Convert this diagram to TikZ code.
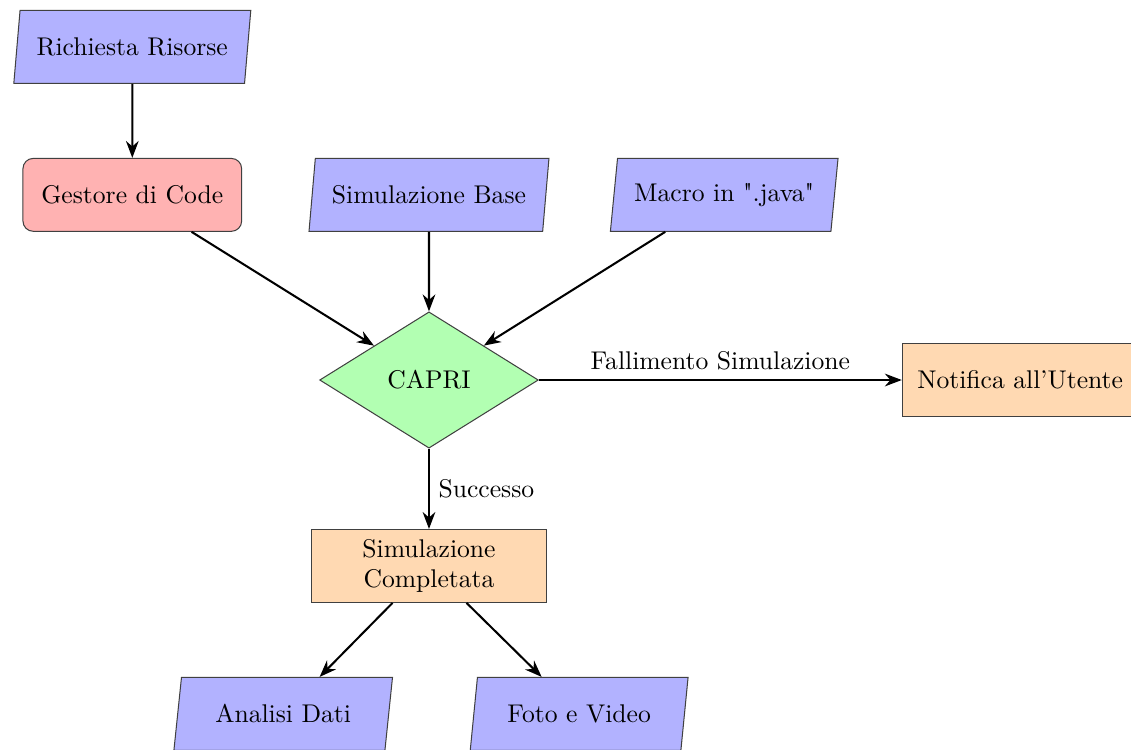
\documentclass[tikz,border=0pt]{standalone}
\usetikzlibrary{arrows.meta, positioning, shapes.geometric}
\tikzstyle{block} = [minimum width=3cm, minimum height=1cm, draw=black!75, inner sep=3.33pt]
\tikzstyle{io} = [block, trapezium, trapezium stretches=true, trapezium left angle=80, trapezium right angle=100, inner xsep=6.5pt, fill=blue!30]
\tikzstyle{queue} = [block, rectangle, rounded corners, fill=red!30]
\tikzstyle{process} = [block, rectangle, text width=3cm, align=center, fill=orange!30]
\tikzstyle{decision} = [block, diamond, fill=green!30]
\tikzstyle{arrow} = [-Stealth, thick]
\tikzstyle{note} = [font=\normalsize]

\begin{document}
\begin{tikzpicture}[on grid, auto]
    \useasboundingbox (-5.885,-5.075) rectangle (9.63,5.213);

    \node (capri) [decision] {CAPRI};
    \node (base) [io, above=2.54cm of capri] {Simulazione Base};
    \node (gestore) [queue, left=4.07cm of base] {Gestore di Code};
    \node (macro) [io, right=4.05cm of base] {Macro in \textquotedbl.java\textquotedbl};
    \node (richiesta) [io, above=2.03cm of gestore] {Richiesta Risorse};
    \node (notifica) [process, right=8.11cm of capri] {Notifica all'Utente};
    \node (completata) [process, below=2.55cm of capri] {Simulazione\\Completata};
    \node (analisi) [io, below left=2.03cm and 2.0cm of completata] {Analisi Dati};
    \node (foto) [io, below right=2.03cm and 2.06cm of completata] {Foto e Video};

    % Arrows.
    \draw [arrow] (richiesta) -- (gestore);
    \foreach \n in {gestore, base, macro} {%
        \draw [arrow] (\n) -- (capri);
    }
    \draw [arrow] (capri) -- node [note] {Fallimento Simulazione} (notifica);
    \draw [arrow] (capri) -- node [note] {Successo} (completata);
    \foreach \n in {analisi, foto} {%
        \draw [arrow] (completata) -- (\n);
    }
\end{tikzpicture}
\end{document}
